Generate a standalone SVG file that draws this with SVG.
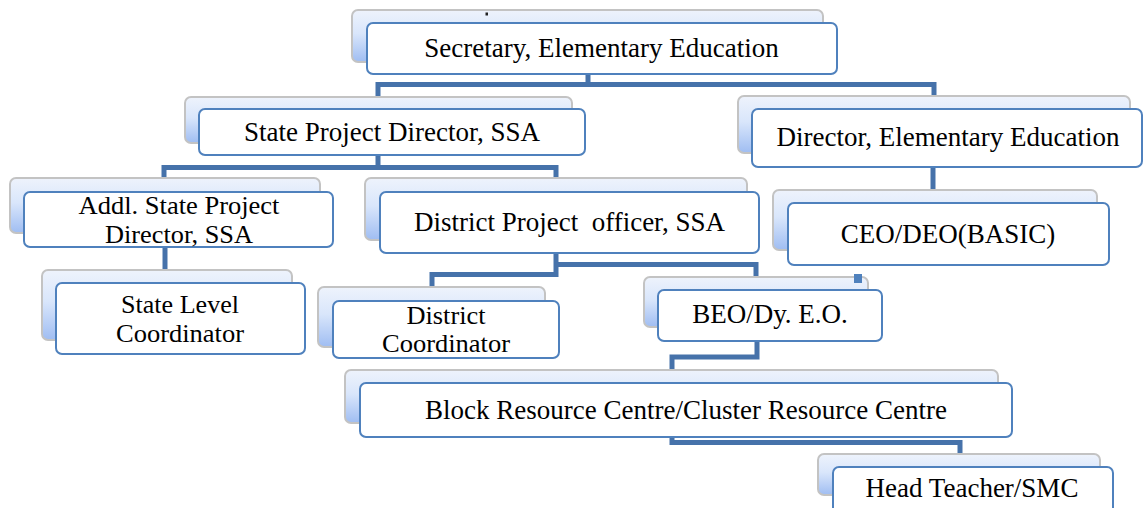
<svg xmlns="http://www.w3.org/2000/svg" width="1143" height="508" viewBox="0 0 1143 508">
<defs>
<linearGradient id="bg" x1="0" y1="0" x2="0" y2="1">
<stop offset="0" stop-color="#eef3fc"/>
<stop offset="0.45" stop-color="#d9e6fb"/>
<stop offset="1" stop-color="#9fbdf2"/>
</linearGradient>
<style>
.back{fill:url(#bg);stroke:#c3c3c3;stroke-width:2}
.front{fill:#ffffff;stroke:#4f81bd;stroke-width:2}
.t{font-family:"Liberation Serif","Times New Roman",serif;font-size:27px;fill:#000;text-anchor:middle;white-space:pre}
.t2{font-size:25px}
.c{fill:none;stroke:#4672aa;stroke-width:5;stroke-linejoin:miter}
</style>
</defs>
<rect width="1143" height="508" fill="#ffffff"/>
<g id="connectors">
<path class="c" d="M378,97 V84.5 H934 V97 M588,74 V84.5"/>
<path class="c" d="M164,178 V167.5 H556 V178 M378,155 V167.5"/>
<path class="c" d="M933,167 V190"/>
<path class="c" d="M165,247 V270"/>
<path class="c" d="M556,253 V274.5 H432 V287 M556,264.5 H756 V277"/>
<path class="c" d="M757,341 V357 H672 V370"/>
<path class="c" d="M672,437 V442.5 H960 V454"/>
</g>
<g id="secretary">
<rect class="back" x="352" y="10" width="471" height="52" rx="6"/>
<rect x="485.5" y="12.5" width="2.5" height="3" fill="#222"/>
<rect class="front" x="367" y="23" width="470" height="51" rx="6"/>
<text class="t" x="601.5" y="57">Secretary, Elementary Education</text>
</g>
<g id="state-project-director">
<rect class="back" x="185" y="97" width="387" height="46" rx="6"/>
<rect class="front" x="199" y="109" width="386" height="46" rx="6"/>
<text class="t" x="392" y="141">State Project Director, SSA</text>
</g>
<g id="director-ee">
<rect class="back" x="738" y="96" width="392" height="57" rx="6"/>
<rect class="front" x="752" y="109" width="390" height="58" rx="6"/>
<text class="t" x="948" y="146">Director, Elementary Education</text>
</g>
<g id="addl-spd">
<rect class="back" x="10" y="178" width="310" height="55" rx="6"/>
<rect class="front" x="24" y="192" width="309" height="55" rx="6"/>
<text class="t t2" x="179" y="214" textLength="201" lengthAdjust="spacingAndGlyphs">Addl. State Project</text>
<text class="t t2" x="179" y="242.5" textLength="148" lengthAdjust="spacingAndGlyphs">Director, SSA</text>
</g>
<g id="district-po">
<rect class="back" x="365" y="178" width="382" height="62" rx="6"/>
<rect class="front" x="380" y="192" width="379" height="61" rx="6"/>
<text class="t" x="569.5" y="231" xml:space="preserve">District Project  officer, SSA</text>
</g>
<g id="ceo-deo">
<rect class="back" x="773" y="190" width="324" height="60" rx="6"/>
<rect class="front" x="788" y="203" width="321" height="62" rx="6"/>
<text class="t" x="948" y="243">CEO/DEO(BASIC)</text>
</g>
<g id="state-level-coordinator">
<rect class="back" x="42" y="270" width="250" height="70" rx="6"/>
<rect class="front" x="56" y="283" width="249" height="71" rx="6"/>
<text class="t t2" x="180" y="313" textLength="118" lengthAdjust="spacingAndGlyphs">State Level</text>
<text class="t t2" x="180" y="341.5" textLength="128" lengthAdjust="spacingAndGlyphs">Coordinator</text>
</g>
<g id="district-coordinator">
<rect class="back" x="318" y="287" width="227" height="60" rx="6"/>
<rect class="front" x="333" y="301" width="226" height="57" rx="6"/>
<text class="t t2" x="446" y="323.5" textLength="79" lengthAdjust="spacingAndGlyphs">District</text>
<text class="t t2" x="446" y="352" textLength="128" lengthAdjust="spacingAndGlyphs">Coordinator</text>
</g>
<g id="beo">
<rect class="back" x="644" y="277" width="224" height="50" rx="6"/>
<rect x="854" y="274" width="8" height="9" fill="#4f81bd"/>
<rect class="front" x="658" y="290" width="224" height="51" rx="6"/>
<text class="t" x="770" y="323">BEO/Dy. E.O.</text>
</g>
<g id="brc-crc">
<rect class="back" x="345" y="370" width="653" height="53" rx="6"/>
<rect class="front" x="360" y="383" width="652" height="54" rx="6"/>
<text class="t" x="686" y="419">Block Resource Centre/Cluster Resource Centre</text>
</g>
<g id="head-teacher">
<rect class="back" x="818" y="454" width="282" height="41" rx="6"/>
<rect class="front" x="833" y="467" width="280" height="50" rx="6"/>
<text class="t" x="972" y="497">Head Teacher/SMC</text>
</g>
</svg>
